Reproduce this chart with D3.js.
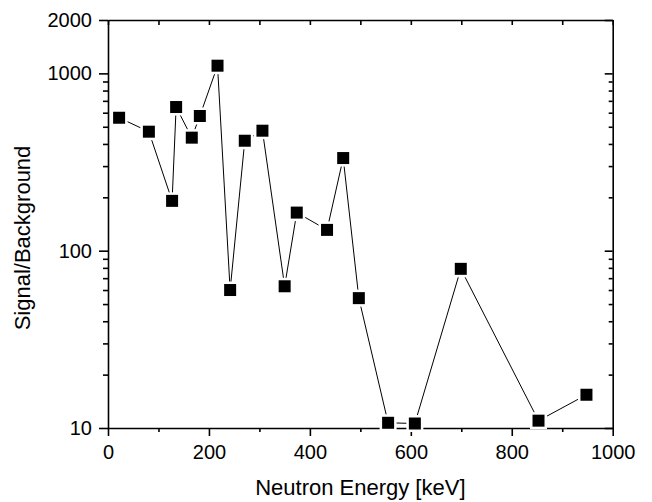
<!DOCTYPE html>
<html>
<head>
<meta charset="utf-8">
<script src="https://cdn.jsdelivr.net/npm/d3@7"></script>
<style>
  body { margin: 0; background: #fff; }
  svg text { font-family: "Liberation Sans", Arial, sans-serif; fill: #000; }
</style>
</head>
<body>
<div id="chart"></div>
<script>
// neutron energy [keV] and signal/background ratio
var energy = [22, 81, 127, 135, 166, 182, 217, 242, 271, 306, 350, 374, 434, 466, 497, 555, 608, 699, 853, 948];
var ratio = [562, 469, 191, 646, 434, 575, 1105, 60, 417, 475, 63, 164, 131, 333, 54, 10.7, 10.6, 79, 11.0, 15.4];
var xTicks = [0, 200, 400, 600, 800, 1000];
var xMinor = [100, 300, 500, 700, 900];
var yTicks = [10, 100, 1000, 2000];

var W = 652, H = 502;
var margin = {top: 20, right: 39.3, bottom: 74, left: 108};
var w = W - margin.left - margin.right;
var h = H - margin.top - margin.bottom;

var svg = d3.select("#chart").append("svg")
	.attr("width", W)
	.attr("height", H);
var g = svg.append("g").attr("transform", "translate(" + margin.left + "," + margin.top + ")");

var x = d3.scaleLinear().domain([0, 1000]).range([0, w]);
var y = d3.scaleLog().domain([10, 2000]).range([h, 0]);

// minor ticks for log axis
var yMinor = [];
[10, 100, 1000].forEach(function(dec) {
	for (var k = 2; k <= 9; k++) {
		if (dec * k < 2000) yMinor.push(dec * k);
	}
});

function styleAxis(sel) {
	sel.selectAll("path, line").attr("stroke", "#000").attr("stroke-width", 1.6);
	sel.selectAll("text").attr("font-size", 20).attr("fill", "#000");
	return sel;
}

// bottom axis
g.append("g").attr("transform", "translate(0," + h + ")")
	.call(d3.axisBottom(x).tickValues(xMinor).tickSize(4).tickFormat(""))
	.call(styleAxis).select(".domain").remove();
g.append("g").attr("transform", "translate(0," + h + ")")
	.call(d3.axisBottom(x).tickValues(xTicks).tickSizeInner(8).tickSizeOuter(0).tickPadding(9).tickFormat(d3.format("d")))
	.call(styleAxis);

// top axis (ticks inward)
g.append("g")
	.call(d3.axisTop(x).tickValues(xTicks.concat(xMinor)).tickSizeInner(-5).tickSizeOuter(0).tickFormat(""))
	.call(styleAxis);

// left axis
g.append("g")
	.call(d3.axisLeft(y).tickValues(yMinor).tickSize(5).tickFormat(""))
	.call(styleAxis).select(".domain").remove();
g.append("g")
	.call(d3.axisLeft(y).tickValues(yTicks).tickSizeInner(9).tickSizeOuter(0).tickPadding(7).tickFormat(d3.format("d")))
	.call(styleAxis);

// right axis (ticks inward)
g.append("g").attr("transform", "translate(" + w + ",0)")
	.call(d3.axisRight(y).tickValues(yMinor).tickSize(-4).tickFormat(""))
	.call(styleAxis).select(".domain").remove();
g.append("g").attr("transform", "translate(" + w + ",0)")
	.call(d3.axisRight(y).tickValues(yTicks).tickSizeInner(-8).tickSizeOuter(0).tickFormat(""))
	.call(styleAxis);

// data line
var line = d3.line()
	.x(function(d, i) { return x(energy[i]); })
	.y(function(d) { return y(d); });

g.append("path")
	.datum(ratio)
	.attr("d", line)
	.attr("fill", "none")
	.attr("stroke", "#000")
	.attr("stroke-width", 1);

// square markers, white edge cuts the line short
var s = 14.5;
g.selectAll("rect.pt")
	.data(ratio)
	.enter()
	.append("rect")
	.attr("class", "pt")
	.attr("x", function(d, i) { return x(energy[i]) - s / 2; })
	.attr("y", function(d) { return y(d) - s / 2; })
	.attr("width", s)
	.attr("height", s)
	.attr("fill", "#000")
	.attr("stroke", "#fff")
	.attr("stroke-width", 2.5);

// axis labels
svg.append("text")
	.attr("x", margin.left + w / 2)
	.attr("y", 495)
	.attr("text-anchor", "middle")
	.attr("font-size", 22)
	.text("Neutron Energy [keV]");

svg.append("text")
	.attr("transform", "translate(30,238) rotate(-90)")
	.attr("text-anchor", "middle")
	.attr("font-size", 22)
	.text("Signal/Background");
</script>
</body>
</html>
